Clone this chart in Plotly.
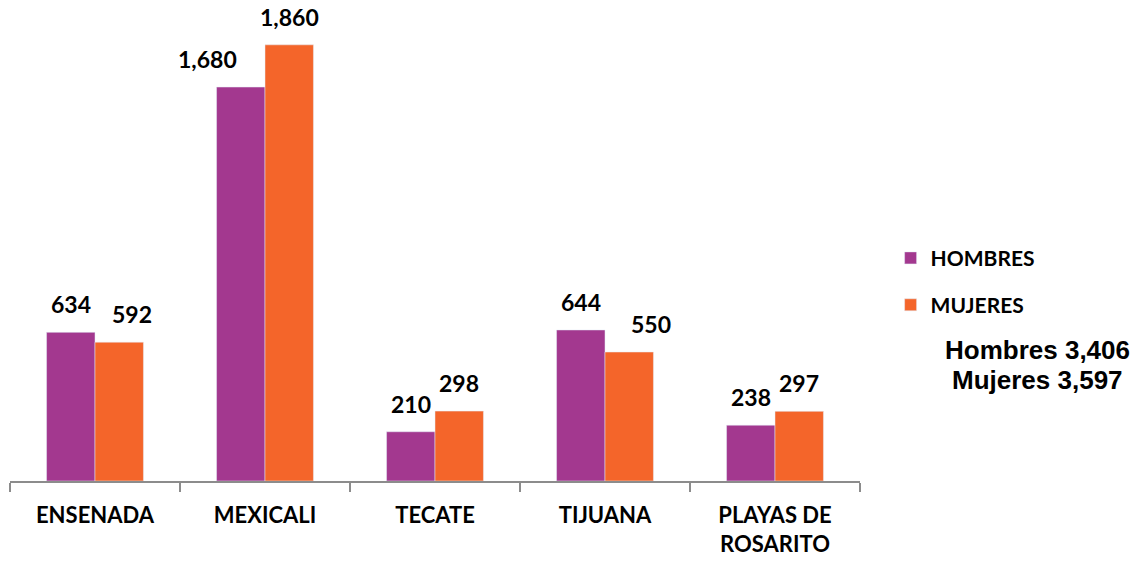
import plotly.graph_objects as go

MUNICIPIOS = ["ENSENADA", "MEXICALI", "TECATE", "TIJUANA", "PLAYAS DE<br>ROSARITO"]
HOMBRES = [634, 1680, 210, 644, 238]
MUJERES = [592, 1860, 298, 550, 297]
TOTAL_HOMBRES = "3,406"
TOTAL_MUJERES = "3,597"

PURPLE = "#A3388F"
ORANGE = "#F4652A"
FONT = "Lato, Calibri, sans-serif"
ARIAL = "Arial, 'Liberation Sans', sans-serif"

fig = go.Figure()
fig.add_trace(go.Bar(x=MUNICIPIOS, y=HOMBRES, name="<b>HOMBRES</b>", marker_color=PURPLE,
                     legend="legend"))
fig.add_trace(go.Bar(x=MUNICIPIOS, y=MUJERES, name="<b>MUJERES</b>", marker_color=ORANGE,
                     legend="legend2"))

# value labels, some nudged sideways like the original
h_nudge = [0, -34, 0, 0, 0]
m_nudge = [13, 0, 0, 22, 0]
for i, cat in enumerate(MUNICIPIOS):
    for val, side, nudge in ((HOMBRES[i], -24, h_nudge[i]), (MUJERES[i], 24, m_nudge[i])):
        fig.add_annotation(x=cat, y=val, text=f"<b>{val:,}</b>", showarrow=False,
                           xshift=side + nudge, yshift=28, yanchor="middle",
                           font=dict(family=FONT, size=23, color="black"))

for txt, yy in ((f"<b>Hombres {TOTAL_HOMBRES}</b>", 0.279), (f"<b>Mujeres {TOTAL_MUJERES}</b>", 0.215)):
    fig.add_annotation(xref="paper", yref="paper", x=1.209, y=yy, text=txt,
                       showarrow=False, xanchor="center", yanchor="middle",
                       font=dict(family=ARIAL, size=26, color="black"))

leg = dict(font=dict(family=FONT, size=21, color="black"), xanchor="left", yanchor="middle",
           bgcolor="rgba(0,0,0,0)", itemwidth=30)
# page body has an 8px margin, so the figure margins are trimmed to compensate
fig.update_layout(
    barmode="group", bargap=0.43, bargroupgap=0,
    paper_bgcolor="white", plot_bgcolor="white",
    width=1147, height=563,
    margin=dict(l=2, r=295, t=4, b=90, autoexpand=False),
    showlegend=True,
    legend=dict(x=1.036, y=0.475, **leg),
    legend2=dict(x=1.036, y=0.375, **leg),
)
fig.update_xaxes(showline=True, linecolor="#8C8C8C", linewidth=1.5, automargin=False,
                 ticks="outside", tickson="boundaries", ticklen=9, tickcolor="#8C8C8C",
                 tickwidth=1.5, ticklabelstandoff=14,
                 tickfont=dict(family=FONT, size=22, color="black"),
                 tickprefix="<b>", ticksuffix="</b>")
fig.update_yaxes(range=[0, 2000], visible=False, showgrid=False, zeroline=False)

fig.write_html("out.html")
